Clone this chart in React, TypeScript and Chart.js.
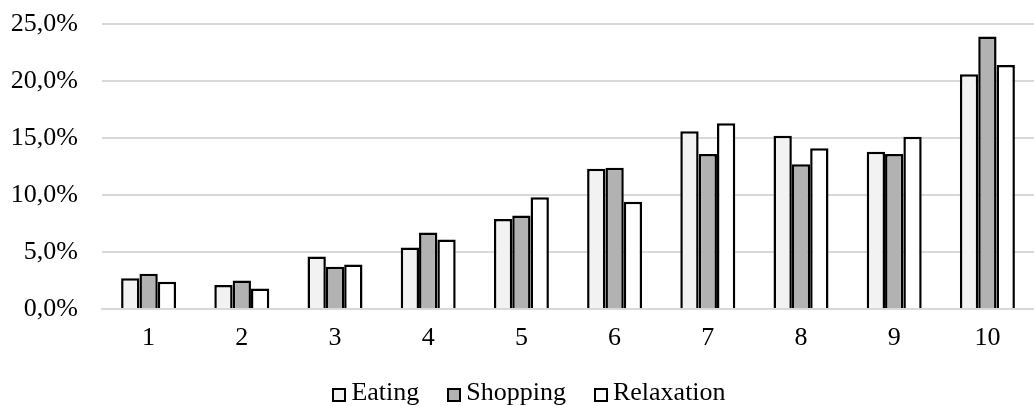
import React, { useEffect, useRef } from "react";
import { Chart, registerables } from "chart.js";

Chart.register(...registerables);

const categories = ["1", "2", "3", "4", "5", "6", "7", "8", "9", "10"];
const eating = [2.7, 2.1, 4.6, 5.4, 7.9, 12.3, 15.6, 15.2, 13.8, 20.6];
const shopping = [3.1, 2.5, 3.7, 6.7, 8.2, 12.4, 13.6, 12.7, 13.6, 23.9];
const relaxation = [2.4, 1.8, 3.9, 6.1, 9.8, 9.4, 16.3, 14.1, 15.1, 21.4];
const yTicks = [0, 5, 10, 15, 20, 25];

const FONT = "'Liberation Serif', 'Times New Roman', serif";

const legendPlugin = {
  id: "customLegend",
  afterDraw(chart: any) {
    const ctx = chart.ctx as CanvasRenderingContext2D;
    ctx.save();
    ctx.font = `26px ${FONT}`;
    const items = chart.data.datasets.map((ds: any) => ({ label: ds.label, color: ds.backgroundColor }));
    const box = 14;
    const gap = 5;
    const spacing = 28;
    const widths = items.map((it: any) => ctx.measureText(it.label).width);
    const total =
      widths.reduce((a: number, b: number) => a + b, 0) +
      items.length * (box + gap) +
      (items.length - 1) * spacing;
    let x = 529 - total / 2;
    const y = 393;
    items.forEach((it: any, i: number) => {
      const bx = Math.round(x);
      const by = Math.round(y - box / 2 + 2);
      ctx.fillStyle = it.color;
      ctx.fillRect(bx, by, box, box);
      ctx.lineWidth = 2;
      ctx.strokeStyle = "#000000";
      ctx.strokeRect(bx + 1, by + 1, box - 2, box - 2);
      ctx.fillStyle = "#000000";
      ctx.textBaseline = "middle";
      ctx.textAlign = "left";
      ctx.fillText(it.label, x + box + gap, y);
      x += box + gap + widths[i] + spacing;
    });
    ctx.restore();
  },
};

export default function App() {
  const ref = useRef<HTMLCanvasElement | null>(null);
  useEffect(() => {
    document.body.style.margin = "0";
    const canvas = ref.current!;
    const chart = new Chart(canvas, {
      type: "bar",
      data: {
        labels: categories,
        datasets: [
          { label: "Eating", data: eating, backgroundColor: "#f2f2f2" },
          { label: "Shopping", data: shopping, backgroundColor: "#b2b2b2" },
          { label: "Relaxation", data: relaxation, backgroundColor: "#ffffff" },
        ].map((d) => ({
          ...d,
          borderColor: "#000000",
          borderWidth: 2.5,
          categoryPercentage: 0.59,
          barPercentage: 1.0,
        })),
      },
      plugins: [legendPlugin],
      options: {
        responsive: false,
        animation: false,
        layout: { padding: { top: 24, right: 0, left: 0, bottom: 52 } },
        plugins: {
          tooltip: { enabled: false },
          legend: { display: false },
        },
        scales: {
          x: {
            grid: { display: false, drawTicks: false },
            border: { display: true, color: "#d9d9d9", width: 2 },
            afterFit: (scale: any) => {
              scale.height = 45;
            },
            ticks: {
              font: { family: FONT, size: 26 },
              color: "#000000",
              padding: 14,
            },
          },
          y: {
            min: 0,
            max: 25,
            afterBuildTicks: (scale: any) => {
              scale.ticks = yTicks.map((v) => ({ value: v }));
            },
            afterFit: (scale: any) => {
              scale.width = 102;
              scale.paddingTop = 0;
              scale.paddingBottom = 0;
            },
            grid: { color: "#d9d9d9", lineWidth: 2, drawTicks: false },
            border: { display: false },
            ticks: {
              font: { family: FONT, size: 26 },
              color: "#000000",
              padding: 24,
              callback: (v: any) => Number(v).toFixed(1).replace(".", ",") + "%",
            },
          },
        },
      },
    });
    return () => chart.destroy();
  }, []);
  return <canvas ref={ref} width={1034} height={406} style={{ display: "block" }} />;
}
